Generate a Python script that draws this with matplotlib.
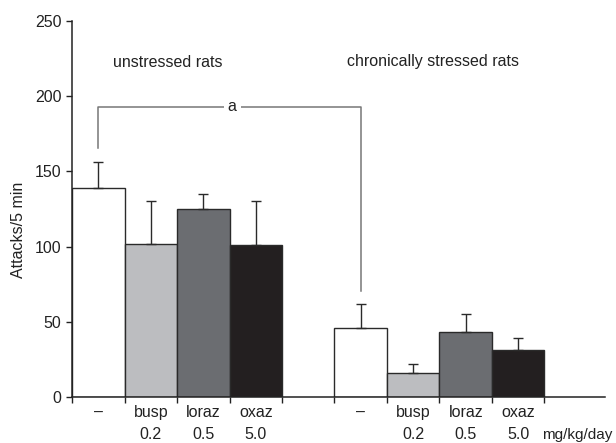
import matplotlib.pyplot as plt
import numpy as np

plt.rcParams['font.family'] = ['Liberation Sans', 'DejaVu Sans']

# group 1 = unstressed rats, group 2 = chronically stressed rats
drugs = ['–', 'busp', 'loraz', 'oxaz']
doses = ['', '0.2', '0.5', '5.0']
unstressed = [139, 102, 125, 101]
unstressed_err = [17, 28, 10, 29]
stressed = [46, 16, 43, 31]
stressed_err = [16, 6, 12, 8]
colors = ['#ffffff', '#bcbdc0', '#6b6d71', '#231f20']

fs = 11.5
tc = '#222222'

fig = plt.figure(figsize=(6.16, 4.43), dpi=100)
ax = fig.add_axes([0.1169, 0.1038, 0.865, 0.849])

x1 = np.arange(4) + 0.5
x2 = np.arange(4) + 5.5
for xs, vals, errs in [(x1, unstressed, unstressed_err), (x2, stressed, stressed_err)]:
    ax.bar(xs, vals, width=1.0, color=colors, edgecolor='#2a2a2a', linewidth=1.0,
           yerr=[np.zeros(4), errs], capsize=3.5,
           error_kw=dict(ecolor='#2a2a2a', elinewidth=1.0, capthick=1.0), zorder=2)

ax.set_xlim(0, 10.15)
ax.set_ylim(0, 250)
ax.set_yticks([0, 50, 100, 150, 200, 250])
ax.set_xticks(np.arange(10))
ax.set_xticklabels([])
ax.tick_params(axis='both', direction='out', length=4, width=1, labelsize=fs, colors=tc)
for s in ['top', 'right']:
    ax.spines[s].set_visible(False)
for s in ['left', 'bottom']:
    ax.spines[s].set_linewidth(1.1)
    ax.spines[s].set_color(tc)

# category labels below axis
for xs in (x1, x2):
    for xc, d, dose in zip(xs, drugs, doses):
        ax.text(xc, -10.5, d, ha='center', va='center', fontsize=fs, color=tc)
        if dose:
            ax.text(xc, -25, dose, ha='center', va='center', fontsize=fs, color=tc)
ax.text(8.95, -25, 'mg/kg/day', ha='left', va='center', fontsize=11, color=tc,
        clip_on=False)

ax.text(-0.101, 0.444, 'Attacks/5 min', rotation=90, ha='center', va='center',
        fontsize=fs, color=tc, transform=ax.transAxes)

# group titles
ax.text(1.83, 222.5, 'unstressed rats', ha='center', va='center', fontsize=fs, color=tc)
ax.text(6.88, 223, 'chronically stressed rats', ha='center', va='center', fontsize=fs, color=tc)

# significance bracket
bc = '#777777'
ax.plot([0.5, 0.5, 5.5, 5.5], [165.5, 193, 193, 70.5], color=bc, linewidth=1.1, zorder=1)
ax.text(3.05, 193, 'a', ha='center', va='center', fontsize=fs, color=tc,
        bbox=dict(facecolor='white', edgecolor='none', pad=3), zorder=3)

fig.savefig('out.png', dpi=100)
